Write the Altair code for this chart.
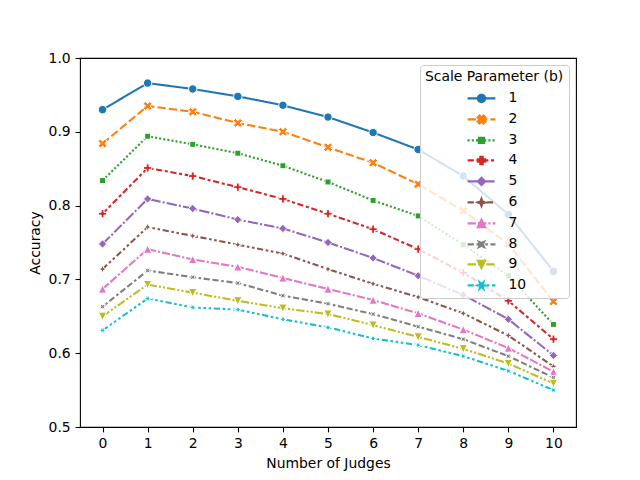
import math
import altair as alt
import pandas as pd

# ---------------- data ----------------
judges = [0, 1, 2, 3, 4, 5, 6, 7, 8, 9, 10]
series_names = ["1", "2", "3", "4", "5", "6", "7", "8", "9", "10"]
acc_b1 = [0.930, 0.966, 0.958, 0.948, 0.936, 0.920, 0.899, 0.876, 0.840, 0.788, 0.711]
acc_b2 = [0.884, 0.935, 0.927, 0.912, 0.900, 0.879, 0.858, 0.829, 0.793, 0.748, 0.670]
acc_b3 = [0.834, 0.894, 0.883, 0.871, 0.854, 0.832, 0.807, 0.786, 0.747, 0.705, 0.639]
acc_b4 = [0.789, 0.851, 0.840, 0.825, 0.809, 0.789, 0.768, 0.741, 0.709, 0.671, 0.619]
acc_b5 = [0.748, 0.809, 0.796, 0.781, 0.769, 0.750, 0.729, 0.705, 0.679, 0.646, 0.597]
acc_b6 = [0.714, 0.771, 0.759, 0.747, 0.735, 0.714, 0.694, 0.676, 0.654, 0.624, 0.582]
acc_b7 = [0.687, 0.741, 0.727, 0.717, 0.702, 0.687, 0.672, 0.654, 0.632, 0.607, 0.575]
acc_b8 = [0.663, 0.712, 0.703, 0.695, 0.678, 0.667, 0.653, 0.636, 0.619, 0.596, 0.567]
acc_b9 = [0.650, 0.693, 0.682, 0.671, 0.661, 0.653, 0.638, 0.622, 0.606, 0.586, 0.559]
acc_b10 = [0.631, 0.674, 0.662, 0.659, 0.646, 0.635, 0.620, 0.611, 0.596, 0.576, 0.550]
all_series = [acc_b1, acc_b2, acc_b3, acc_b4, acc_b5, acc_b6, acc_b7, acc_b8, acc_b9, acc_b10]
x_ticks = [0, 1, 2, 3, 4, 5, 6, 7, 8, 9, 10]
y_ticks = [0.5, 0.6, 0.7, 0.8, 0.9, 1.0]

rows = []
for name, vals in zip(series_names, all_series):
    for j, v in zip(judges, vals):
        rows.append({"judges": j, "accuracy": v, "b": name})
df = pd.DataFrame(rows)

# ---------------- styles ----------------
FONT = "DejaVu Sans"
FS = 13.9
colors = ["#1f77b4", "#ff7f0e", "#2ca02c", "#d62728", "#9467bd",
          "#8c564b", "#e377c2", "#7f7f7f", "#bcbd22", "#17becf"]
LW = 2.08
dash_units = [
    [],
    [4, 1.5],
    [1, 1],
    [3, 1.25, 1.5, 1.25],
    [5, 1, 1, 1],
    [3, 1.25, 1.25, 1.25, 1.25, 1.25],
    [4, 1, 4, 1, 1, 1],
    [3, 1.25, 3, 1.25, 1.25, 1.25],
    [4, 1, 1, 1, 1, 1],
    [3, 1.25, 1.25, 1.25, 1.25, 1.25, 1.25, 1.25],
]
dashes_px = [[round(d * LW, 2) for d in ds] if ds else [1, 0] for ds in dash_units]


def poly(pts):
    return "M" + " L".join(f"{x:.3f},{y:.3f}" for x, y in pts) + " Z"


def rot(pts, deg):
    a = math.radians(deg)
    return [(x * math.cos(a) - y * math.sin(a), x * math.sin(a) + y * math.cos(a)) for x, y in pts]


def star(n, inner, angle):
    pts = []
    for k in range(2 * n):
        r = 1.0 if k % 2 == 0 else inner
        th = math.pi / 2 + math.radians(angle) + k * math.pi / n
        pts.append((r * math.cos(th), -r * math.sin(th)))
    return pts


w = 1 / 3
plus = [(-w, -1), (w, -1), (w, -w), (1, -w), (1, w), (w, w), (w, 1), (-w, 1),
        (-w, w), (-1, w), (-1, -w), (-w, -w)]
circle_pts = [(math.cos(2 * math.pi * k / 24), math.sin(2 * math.pi * k / 24)) for k in range(24)]
marker_pts = [
    circle_pts,
    [(x * 1.15, y * 1.15) for x, y in rot(plus, 45)],
    [(-0.72, -0.72), (0.72, -0.72), (0.72, 0.72), (-0.72, 0.72)],
    plus,
    [(0, -1), (1, 0), (0, 1), (-1, 0)],
    star(4, 0.381966, 0),
    [(0, -1), (1, 1), (-1, 1)],
    star(4, 0.381966, 45),
    [(0, 1), (1, -1), (-1, -1)],
    star(6, 0.381966, 30),
]
marker_paths = [poly(p) for p in marker_pts]

# legend symbols: dashed line segment + marker (unit = 10 px)
LEG_UNIT = 10.0
HALF = 13.9 / LEG_UNIT


def legend_path(dash, pts):
    segs = []
    if not dash:
        segs.append(f"M{-HALF:.3f},0 L{HALF:.3f},0")
    else:
        pos = -HALF
        k = 0
        while pos < HALF:
            length = dash[k % len(dash)] * LW / LEG_UNIT
            if k % 2 == 0:
                end = min(pos + length, HALF)
                segs.append(f"M{pos:.3f},0 L{end:.3f},0")
            pos += length
            k += 1
    s = 0.37
    segs.append(poly([(x * s, y * s) for x, y in pts]))
    return " ".join(segs)


legend_paths = [legend_path(d, p) for d, p in zip(dash_units, marker_pts)]

x_enc = alt.X("judges:Q", scale=alt.Scale(domain=[-0.5, 10.5], nice=False, zero=False),
              axis=alt.Axis(values=x_ticks, title="Number of Judges", format="d"))
y_enc = alt.Y("accuracy:Q", scale=alt.Scale(domain=[0.5, 1.0], nice=False, zero=False),
              axis=alt.Axis(values=y_ticks, title="Accuracy", format=".1f"))
color_enc = alt.Color("b:N", scale=alt.Scale(domain=series_names, range=colors), legend=None)

lines = alt.Chart(df).mark_line(strokeWidth=LW, strokeCap="butt").encode(
    x=x_enc, y=y_enc, color=color_enc,
    strokeDash=alt.StrokeDash("b:N", scale=alt.Scale(domain=series_names, range=dashes_px), legend=None),
)

points = alt.Chart(df).mark_point(filled=True, opacity=1, size=69, stroke="white", strokeWidth=1).encode(
    x=x_enc, y=y_enc, color=color_enc,
    shape=alt.Shape("b:N", scale=alt.Scale(domain=series_names, range=marker_paths), legend=None),
)

leg = alt.Legend(
    title="Scale Parameter (b)", orient="none", legendX=340, legendY=7,
    padding=5, fillColor="rgba(255,255,255,0.8)", strokeColor="#cccccc", cornerRadius=3,
    titleFont=FONT, titleFontSize=FS, titleFontWeight="normal", titleColor="black",
    titlePadding=3, titleLimit=300,
    labelFont=FONT, labelFontSize=FS, labelColor="black",
    symbolSize=400, symbolStrokeWidth=LW, symbolOpacity=1,
    symbolOffset=45, labelOffset=15.5, rowPadding=1,
)
legend_layer = alt.Chart(df).mark_point(filled=True, opacity=0, strokeWidth=LW).encode(
    x=x_enc, y=y_enc,
    fill=alt.Fill("b:N", scale=alt.Scale(domain=series_names, range=colors), legend=leg),
    stroke=alt.Stroke("b:N", scale=alt.Scale(domain=series_names, range=colors), legend=leg),
    shape=alt.Shape("b:N", scale=alt.Scale(domain=series_names, range=legend_paths), legend=leg),
)

chart = alt.layer(lines, points, legend_layer).resolve_scale(
    shape="independent", fill="independent", stroke="independent"
).properties(
    width=496, height=369,
    padding={"left": 72, "top": 50, "right": 56, "bottom": 45},
    autosize=alt.AutoSizeParams(type="none"),
).configure_view(
    stroke="black", strokeWidth=1.1,
).configure_axis(
    grid=False, domain=False,
    tickColor="black", tickWidth=1.1, tickSize=4.9,
    labelFont=FONT, labelFontSize=FS, labelColor="black", labelPadding=4.9,
    titleFont=FONT, titleFontSize=FS, titleFontWeight="normal", titleColor="black",
    titlePadding=6,
)

chart.save("out.html", embed_options={"renderer": "svg", "actions": False})
